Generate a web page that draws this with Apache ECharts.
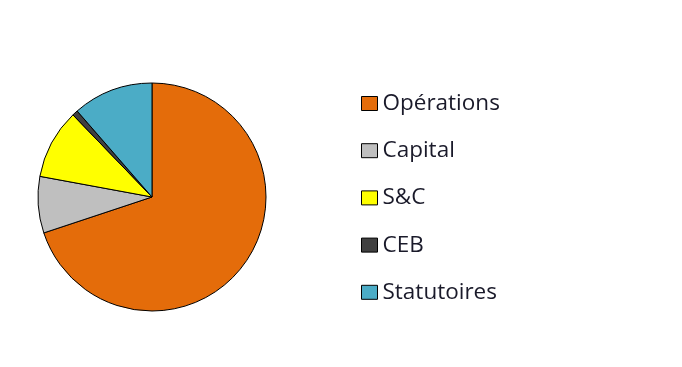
<!DOCTYPE html>
<html><head><meta charset="utf-8">
<script src="https://cdn.jsdelivr.net/npm/echarts@6/dist/echarts.min.js"></script>
<style>html,body{margin:0;padding:0;background:#fff}#c{width:682px;height:367px}</style>
</head><body><div id="c"></div>
<script>
const categories = ['Opérations', 'Capital', 'S&C', 'CEB', 'Statutoires'];
const values = [69.9, 8.0, 9.9, 0.8, 11.4];
const colors = ['#E46C0A', '#BFBFBF', '#FFFF00', '#404040', '#4BACC6'];

const chart = echarts.init(document.getElementById('c'));
chart.setOption({
  animation: false,
  backgroundColor: '#fff',
  color: colors,
  legend: {
    orient: 'vertical',
    left: 356,
    top: 87,
    itemWidth: 16,
    itemHeight: 14,
    itemGap: 24.2,
    icon: 'rect',
    itemStyle: { borderColor: '#000', borderWidth: 1 },
    textStyle: { fontFamily: 'Open Sans', fontSize: 22.5, lineHeight: 22, color: '#1a1a2a' },
    data: categories
  },
  series: [{
    type: 'pie',
    center: [152, 197],
    radius: 114,
    startAngle: 90,
    clockwise: true,
    label: { show: false },
    labelLine: { show: false },
    emphasis: { disabled: true },
    itemStyle: { borderColor: '#000', borderWidth: 1 },
    data: categories.map((n, i) => ({ name: n, value: values[i] }))
  }]
});
</script></body></html>
